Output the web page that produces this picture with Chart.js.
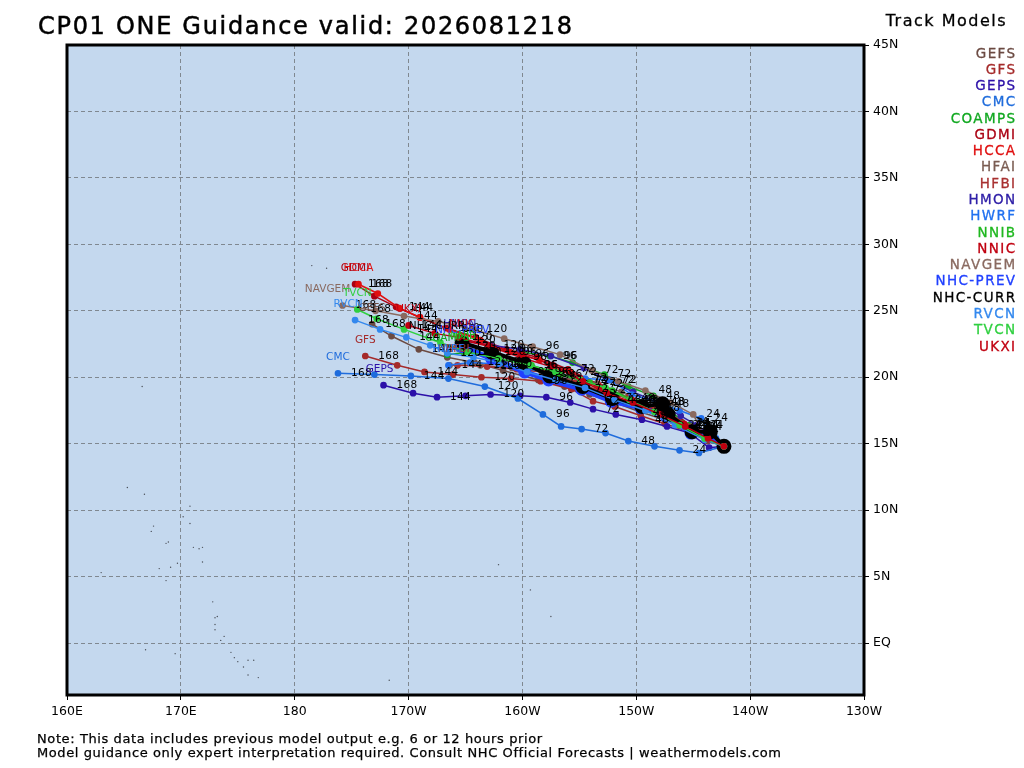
<!DOCTYPE html>
<html>
<head>
<meta charset="utf-8">
<title>CP01 ONE Guidance</title>
<script src="https://cdn.jsdelivr.net/npm/chart.js@4/dist/chart.umd.min.js"></script>
<style>
  html, body { margin: 0; padding: 0; background: #fff; }
  #wrap { width: 1024px; height: 768px; }
</style>
</head>
<body>
<div id="wrap"><canvas id="c" width="1024" height="768"></canvas></div>
<script>
// longitudes are degrees east (0-360), first point of each track is hour 0, then every 12 h
const gefsLon = [217.7,216.3,214.7,212.5,210.3,208.1,205.9,203.7,201.4,198.3,195.8,193.4,190.9,188.5,186.8];
const gefsLat = [14.8,15.2,15.9,16.8,17.4,18.1,18.7,19.3,19.8,20.5,21.1,21.5,22.1,23.1,24.0];
const gfsLon = [217.7,216.4,214.7,212.5,210.4,208.1,206.2,204.3,201.6,199.0,196.4,193.9,191.4,189.0,186.2];
const gfsLat = [14.8,15.3,15.9,16.5,17.1,17.8,18.2,19.1,19.7,19.9,20.0,20.2,20.4,20.9,21.6];
const gepsLon = [217.7,216.4,214.7,212.7,210.5,208.2,206.2,204.2,202.1,199.8,197.2,195.0,192.5,190.4,187.8];
const gepsLat = [14.8,14.7,15.8,16.3,16.8,17.2,17.6,18.1,18.5,18.6,18.7,18.6,18.5,18.8,19.4];
const cmcLon = [217.7,215.5,213.8,211.6,209.3,207.3,205.2,203.4,201.8,199.6,196.7,193.5,190.2,187.0,183.8];
const cmcLat = [14.8,14.3,14.5,14.8,15.2,15.8,16.1,16.3,17.2,18.4,19.3,19.9,20.1,20.2,20.3];
const coampsLon = [217.7,216.3,214.7,212.8,211.5,209.3,207.2,204.4,202.4,199.8,197.2,193.4];
const coampsLat = [14.8,15.7,16.4,17.5,18.6,19.3,20.2,21.1,21.6,21.9,22.1,21.7];
const gdmiLon = [217.7,216.0,214.0,211.6,209.3,206.6,204.0,201.3,198.6,195.9,193.3,191.0,188.9,187.0,185.3];
const gdmiLat = [14.8,15.6,16.6,17.5,18.4,19.5,20.6,21.5,22.1,23.0,23.7,24.5,25.3,26.1,27.0];
const hccaLon = [217.7,216.1,214.1,211.6,209.4,206.8,204.2,201.5,198.9,196.3,193.6,191.0,189.2,187.3,185.6];
const hccaLat = [14.8,15.5,16.4,17.4,18.3,19.3,20.4,21.3,21.9,22.8,23.6,24.5,25.2,26.3,27.0];
const hfaiLon = [217.7,216.5,214.9,213.0,211.0,208.7,206.5,204.2,201.7,199.1,196.3,193.6];
const hfaiLat = [14.8,15.6,16.3,17.2,17.9,18.9,19.5,20.0,20.4,20.7,20.9,20.9];
const hfbiLon = [217.7,216.7,215.2,213.1,211.5,209.3,206.8,204.6,202.0,199.5,196.9,194.3];
const hfbiLat = [14.8,15.5,16.2,17.1,17.7,18.5,19.0,19.6,20.4,20.6,20.8,20.9];
const hmonLon = [217.7,216.7,215.3,213.9,211.9,209.7,207.5,205.4,202.5,199.8,197.2,194.5];
const hmonLat = [14.8,15.5,16.4,17.1,18.1,18.9,19.8,20.7,21.6,22.1,22.4,22.8];
const hwrfLon = [217.7,217.0,215.7,213.8,211.9,209.6,207.7,205.5,202.9,200.2,197.9,195.4,193.5];
const hwrfLat = [14.8,15.4,16.9,17.5,18.1,18.7,19.8,19.9,20.2,20.7,21.0,21.1,20.9];
const nnibLon = [217.7,216.1,214.1,212.3,210.2,207.9,205.9,203.3,200.8,197.9,194.8];
const nnibLat = [14.8,15.4,16.5,17.2,18.1,19.0,19.6,20.2,20.9,21.4,21.9];
const nnicLon = [217.7,216.2,214.2,211.9,209.6,207.3,205.1,202.5,199.8,197.2,194.7];
const nnicLat = [14.8,15.5,16.5,17.4,18.3,19.0,19.9,20.8,21.5,22.3,22.8];
const navgemLon = [217.7,215.8,215.0,213.0,210.8,208.4,206.1,203.3,200.9,198.4,195.7,192.6,189.6,187.1,184.2];
const navgemLat = [14.8,15.8,17.2,18.1,19.0,19.7,20.5,21.7,22.3,22.9,23.6,24.2,24.6,25.0,25.4];
const prevLon = [217.7,216.3,214.8,212.6,210.4,207.8,205.2,202.3,200.2,197.3,194.7];
const prevLat = [14.8,15.8,15.8,17.1,17.7,18.2,19.1,19.8,20.4,21.4,22.3];
const currLon = [217.7,216.5,214.9,212.8,212.3,210.5,207.9,205.3,202.4,200.1,197.3,194.7];
const currLat = [14.8,15.9,15.9,17.2,18.0,17.8,18.4,19.3,20.1,21.1,21.9,22.6];
const rvcnLon = [217.7,216.0,213.4,210.8,208.1,205.5,202.9,200.4,198.0,195.7,193.4,191.9,189.8,187.5,185.3];
const rvcnLat = [14.8,15.3,16.4,17.5,18.3,19.2,19.8,20.4,21.1,21.5,21.8,22.4,23.0,23.6,24.3];
const tvcnLon = [217.7,216.0,213.8,211.6,209.4,207.3,205.1,202.9,200.7,197.9,195.2,192.8,189.6,187.2,185.5];
const tvcnLat = [14.8,15.4,16.4,17.4,18.3,19.2,19.8,20.4,20.9,21.4,21.9,22.6,23.6,24.4,25.1];
const ukxiLon = [217.7,216.3,214.3,212.1,209.7,207.4,205.3,202.7,200.0,197.0,194.4,192.3,190.0];
const ukxiLat = [14.8,15.4,16.3,17.2,18.1,18.8,19.7,20.9,21.7,22.4,23.0,23.3,23.9];

// small islands on the base map
const islandLon = [167.6,167.4,168.7,168.9,171.1,171.6,171.9,171.9,169.7,169.1,168.1,163.0,168.7,172.8,173.0,173.2,173.0,173.0,173.8,173.5,174.4,174.7,175.0,175.5,175.9,176.4,175.9,176.8,166.9,169.5,170.8,170.2,170.8,165.3,166.8,166.6,181.5,182.8,200.7,202.5,188.3,197.9];
const islandLat = [8.8,8.4,7.5,7.6,7.2,7.1,7.2,6.1,6.0,5.7,5.6,5.3,4.7,3.1,1.9,2.0,1.4,1.0,0.5,0.2,-0.7,-1.1,-1.4,-1.8,-1.3,-1.3,-2.4,-2.6,-0.5,-0.8,10.3,9.5,9.0,11.7,11.2,19.3,28.4,28.2,4.0,2.0,-2.8,5.9];

const modelNames = ['GEFS','GFS','GEPS','CMC','COAMPS','GDMI','HCCA','HFAI','HFBI','HMON','HWRF','NNIB','NNIC','NAVGEM','NHC-PREV','NHC-CURR','RVCN','TVCN','UKXI'];
const modelLons = [gefsLon,gfsLon,gepsLon,cmcLon,coampsLon,gdmiLon,hccaLon,hfaiLon,hfbiLon,hmonLon,hwrfLon,nnibLon,nnicLon,navgemLon,prevLon,currLon,rvcnLon,tvcnLon,ukxiLon];
const modelLats = [gefsLat,gfsLat,gepsLat,cmcLat,coampsLat,gdmiLat,hccaLat,hfaiLat,hfbiLat,hmonLat,hwrfLat,nnibLat,nnicLat,navgemLat,prevLat,currLat,rvcnLat,tvcnLat,ukxiLat];
const modelColors = ['#6b4a42','#a52a2a','#2c10a8','#1f6cdc','#10a820','#aa0012','#e01010','#7a5c52','#a83030','#3020a8','#2070f0','#20b820','#c00010','#8a6a60','#2040ff','#000000','#3388ee','#30d040','#c00010'];

const lonTicks = [160,170,180,190,200,210,220,230];
const latTicks = [0,5,10,15,20,25,30,35,40,45];

const FONT = '"DejaVu Sans"';
// name labels that do not sit straight above their last point
const nameShift = { 'NHC-CURR': -25, 'NAVGEM': -15, 'RVCN': -7, 'GEPS': -4 };

const datasets = modelNames.map((name, i) => {
    const curr = name === 'NHC-CURR', prev = name === 'NHC-PREV';
    return {
        label: name,
        data: modelLons[i].map((lon, k) => ({ x: lon, y: modelLats[i][k] })),
        borderColor: modelColors[i],
        backgroundColor: modelColors[i],
        borderWidth: curr ? 4 : (prev ? 5 : 1.5),
        pointRadius: curr ? 5.5 : (prev ? 4 : 2.6),
        showLine: true,
        order: modelNames.length - i
    };
});
datasets.push({
    label: 'islands',
    data: islandLon.map((lon, k) => ({ x: lon, y: islandLat[k] })),
    backgroundColor: '#4a4f58',
    pointRadius: 0.7,
    borderWidth: 0,
    showLine: false,
    order: 100
});

function spaced(ctx, text, x, y, gap, heavy) {
    ctx.letterSpacing = gap + 'px';
    ctx.fillText(text, x, y);
    if (heavy) {
        ctx.lineWidth = heavy;
        ctx.strokeStyle = ctx.fillStyle;
        ctx.strokeText(text, x, y);
    }
    ctx.letterSpacing = '0px';
}

// map background, frame, track labels, title, legend, notes
const mapDecor = {
    id: 'mapDecor',
    beforeDraw(chart) {
        const a = chart.chartArea, ctx = chart.ctx;
        ctx.save();
        ctx.fillStyle = '#fff';
        ctx.fillRect(0, 0, chart.width, chart.height);
        ctx.fillStyle = '#c4d8ee';
        ctx.fillRect(a.left, a.top, a.width, a.height);
        ctx.restore();
    },
    afterDatasetsDraw(chart) {
        const a = chart.chartArea, ctx = chart.ctx, sx = chart.scales.x, sy = chart.scales.y;
        ctx.save();
        // hour labels every 24 h
        ctx.font = '10.5px ' + FONT;
        ctx.textBaseline = 'middle';
        ctx.textAlign = 'left';
        ctx.fillStyle = '#000';
        modelNames.forEach((name, i) => {
            modelLons[i].forEach((lon, k) => {
                if (k > 0 && k % 2 === 0) {
                    spaced(ctx, String(k * 12), sx.getPixelForValue(lon) + 13, sy.getPixelForValue(modelLats[i][k]), 0.3);
                }
            });
        });
        // model name above the last point
        ctx.textAlign = 'center';
        ctx.font = '10.5px ' + FONT;
        modelNames.forEach((name, i) => {
            const n = modelLons[i].length - 1;
            ctx.fillStyle = modelColors[i];
            ctx.fillText(name, sx.getPixelForValue(modelLons[i][n]) + (nameShift[name] || 0), sy.getPixelForValue(modelLats[i][n]) - 16);
        });
        // frame
        ctx.strokeStyle = '#000';
        ctx.lineWidth = 3;
        ctx.strokeRect(a.left, a.top, a.width, a.height);

        // title
        ctx.fillStyle = '#000';
        ctx.textAlign = 'left';
        ctx.font = '24px ' + FONT;
        spaced(ctx, 'CP01 ONE Guidance valid: 2026081218', 38, 28, 1.7, 0.5);

        // legend
        ctx.textAlign = 'right';
        ctx.font = '16px ' + FONT;
        spaced(ctx, 'Track Models', 1007, 22, 1.5, 0.3);
        ctx.font = '13.5px ' + FONT;
        modelNames.forEach((name, i) => {
            ctx.fillStyle = modelColors[i];
            spaced(ctx, name, 1016.5, 54 + i * 16.28, 1.4, 0.3);
        });

        // notes
        ctx.fillStyle = '#000';
        ctx.textAlign = 'left';
        ctx.font = '13px ' + FONT;
        spaced(ctx, 'Note: This data includes previous model output e.g. 6 or 12 hours prior', 37, 740, 0.6, 0.25);
        spaced(ctx, 'Model guidance only expert interpretation required. Consult NHC Official Forecasts | weathermodels.com', 37, 754, 0.6, 0.25);
        ctx.restore();
    }
};

new Chart(document.getElementById('c'), {
    type: 'scatter',
    data: { datasets },
    plugins: [mapDecor],
    options: {
        responsive: false,
        animation: false,
        events: [],
        layout: { padding: { left: 67, top: 45, right: 0, bottom: 0 } },
        plugins: { legend: { display: false }, title: { display: false }, tooltip: { enabled: false } },
        scales: {
            x: {
                type: 'linear', min: 160, max: 230,
                afterBuildTicks: s => { s.ticks = lonTicks.map(v => ({ value: v })); },
                afterFit: s => { s.height = 73; },
                grid: { color: '#808890', lineWidth: 1, tickColor: '#000', tickLength: 5 },
                border: { display: false, dash: [4, 3] },
                ticks: {
                    color: '#000', font: { family: FONT, size: 12.5 }, maxRotation: 0, autoSkip: false, padding: 4,
                    callback: v => v < 180 ? v + 'E' : (v === 180 ? '180' : (360 - v) + 'W')
                }
            },
            y: {
                type: 'linear', position: 'right', min: -3.91, max: 45,
                afterBuildTicks: s => { s.ticks = latTicks.map(v => ({ value: v })); },
                afterFit: s => { s.width = 160; },
                grid: { color: '#808890', lineWidth: 1, tickColor: '#000', tickLength: 5 },
                border: { display: false, dash: [4, 3] },
                ticks: {
                    color: '#000', font: { family: FONT, size: 12.5 }, autoSkip: false, padding: 4,
                    callback: v => v === 0 ? 'EQ' : v + 'N'
                }
            }
        }
    }
});
</script>
</body>
</html>
